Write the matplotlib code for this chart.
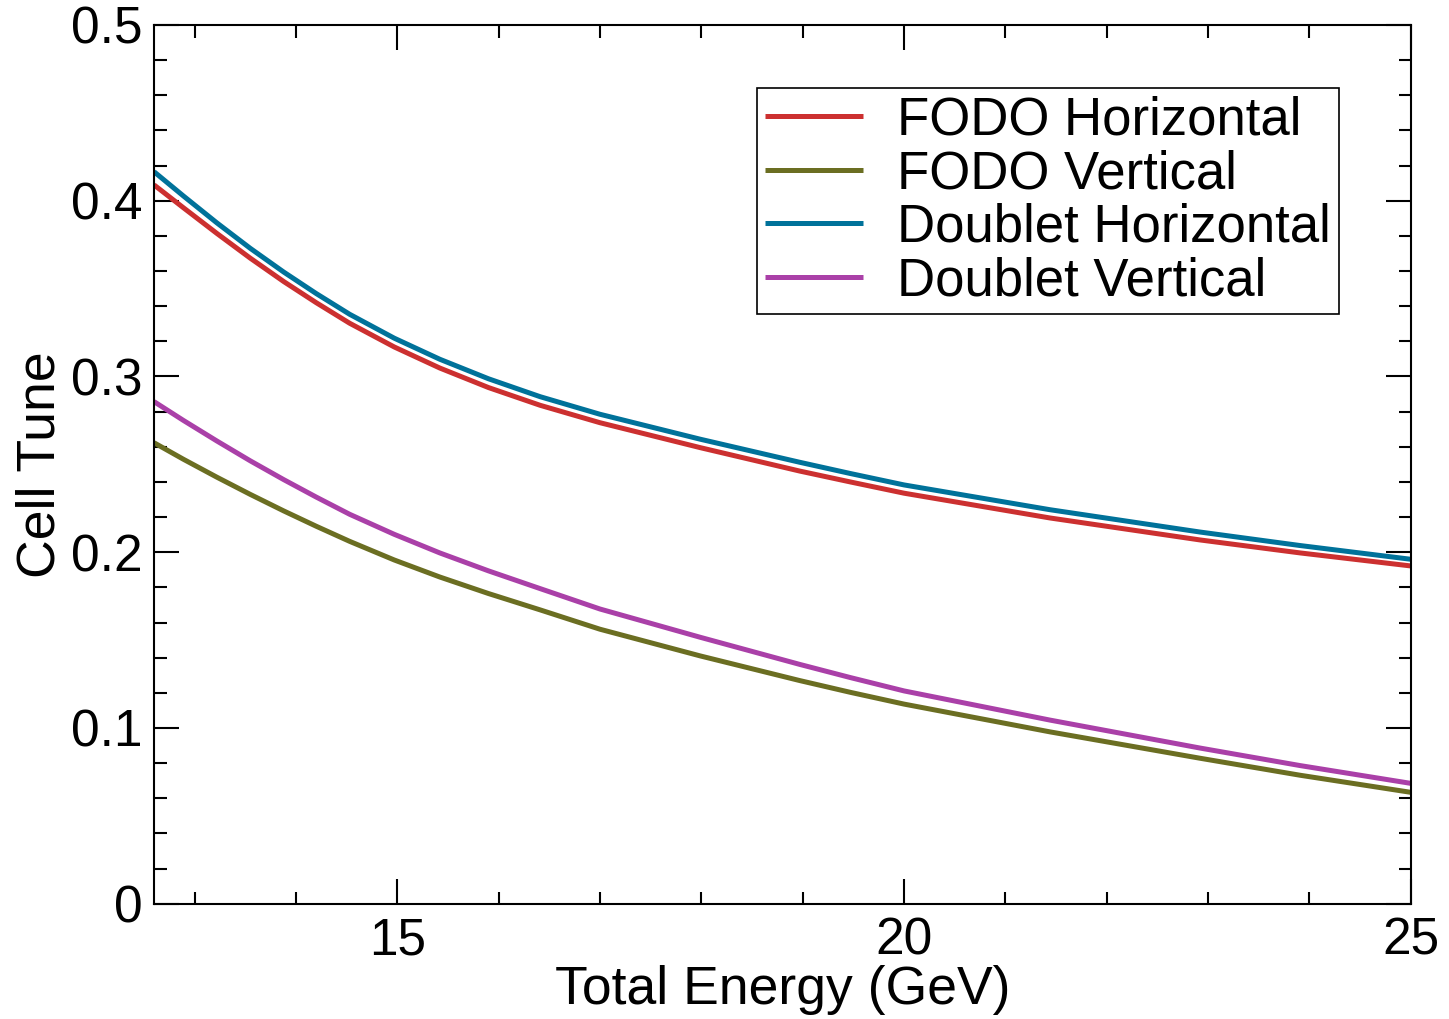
import matplotlib
matplotlib.use("Agg")
import matplotlib.pyplot as plt
from matplotlib.ticker import MultipleLocator

plt.rcParams["font.family"] = ["Liberation Sans", "DejaVu Sans"]

# values
energy = [12.6, 12.89, 13.22, 13.55, 13.88, 14.2, 14.53, 14.97, 15.42, 15.9,
          16.41, 17.0, 17.99, 18.97, 19.47, 20.0, 21.44, 22.92, 23.91, 25.0]
fodo_h = [0.409, 0.3960, 0.3814, 0.3673, 0.3540, 0.3420, 0.3303, 0.3168, 0.3048, 0.2937,
          0.2836, 0.2737, 0.2595, 0.2462, 0.2400, 0.2336, 0.2195, 0.2070, 0.1996, 0.1922]
fodo_v = [0.2623, 0.2529, 0.2427, 0.2329, 0.2235, 0.2148, 0.2062, 0.1956, 0.1859, 0.1765,
          0.1672, 0.1562, 0.1410, 0.1270, 0.1203, 0.1136, 0.0978, 0.0828, 0.0731, 0.0634]
doublet_h = [0.4165, 0.4027, 0.3874, 0.3729, 0.3594, 0.3472, 0.3354, 0.3218, 0.3098, 0.2987,
             0.2885, 0.2785, 0.2643, 0.2512, 0.2448, 0.2383, 0.2242, 0.2115, 0.2038, 0.1960]
doublet_v = [0.2857, 0.2750, 0.2633, 0.2520, 0.2413, 0.2314, 0.2216, 0.2102, 0.1996, 0.1894,
             0.1793, 0.1677, 0.1516, 0.1362, 0.1287, 0.1211, 0.1045, 0.0886, 0.0786, 0.0685]

series = [
    ("FODO Horizontal", fodo_h, "#cc3030"),
    ("FODO Vertical", fodo_v, "#6b6e22"),
    ("Doublet Horizontal", doublet_h, "#00729a"),
    ("Doublet Vertical", doublet_v, "#aa40a8"),
]

fig = plt.figure(figsize=(14.49, 10.19), dpi=100)
ax = fig.add_axes([0.1063, 0.1131, 0.8673, 0.8624])

for name, vals, col in series:
    ax.plot(energy, vals, color=col, lw=3.6, label=name, solid_capstyle="butt")

ax.set_xlim(12.6, 25)
ax.set_ylim(0, 0.5)
ax.xaxis.set_major_locator(MultipleLocator(5))
ax.xaxis.set_minor_locator(MultipleLocator(1))
ax.yaxis.set_minor_locator(MultipleLocator(0.02))
ax.set_yticks([0, 0.1, 0.2, 0.3, 0.4, 0.5])
ax.set_yticklabels(["0", "0.1", "0.2", "0.3", "0.4", "0.5"])

ax.tick_params(which="both", direction="in", top=True, right=True,
               width=1.5, labelsize=37)
ax.tick_params(which="major", length=18)
ax.tick_params(which="minor", length=9)
ax.tick_params(axis="y", pad=8)
ax.tick_params(axis="x", pad=9)
for sp in ax.spines.values():
    sp.set_linewidth(1.5)

ax.set_xlabel("Total Energy (GeV)", fontsize=38.5, labelpad=0)
ax.set_ylabel("Cell Tune", fontsize=38.5, labelpad=4)

leg = ax.legend(loc="upper left", bbox_to_anchor=(0.4798, 0.9283),
                borderaxespad=0, fontsize=38, handlelength=1.86,
                handletextpad=0.65, labelspacing=0.064, borderpad=0.15,
                fancybox=False, framealpha=1)
leg.get_frame().set_edgecolor("black")
leg.get_frame().set_linewidth(1.2)

fig.savefig("out.png", dpi=100)
